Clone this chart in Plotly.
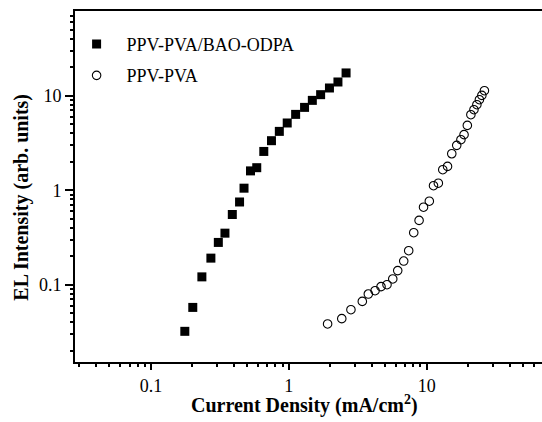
import plotly.graph_objects as go

# PPV-PVA/BAO-ODPA (filled squares)
bao_j = [0.176, 0.201, 0.234, 0.272, 0.308, 0.344, 0.389, 0.439, 0.473, 0.527, 0.585,
         0.658, 0.748, 0.853, 0.973, 1.12, 1.30, 1.48, 1.70, 1.97, 2.27, 2.60]
bao_el = [0.0321, 0.0575, 0.121, 0.191, 0.280, 0.351, 0.553, 0.750, 1.05, 1.60, 1.73,
          2.57, 3.34, 4.19, 5.14, 6.34, 7.52, 8.92, 10.25, 12.06, 13.96, 17.4]

# PPV-PVA (open circles)
ppv_j = [1.91, 2.42, 2.82, 3.41, 3.77, 4.22, 4.66, 5.15, 5.67, 6.16, 6.81, 7.40, 8.05,
         8.80, 9.48, 10.44, 11.2, 12.14, 13.07, 14.15, 15.19, 16.5, 17.7, 18.65, 19.7,
         20.9, 22.0, 23.1, 24.1, 25.1, 26.2]
ppv_el = [0.0384, 0.0437, 0.0544, 0.0666, 0.0797, 0.0864, 0.0953, 0.100, 0.115, 0.141,
          0.178, 0.229, 0.355, 0.479, 0.661, 0.765, 1.116, 1.186, 1.648, 1.786, 2.43,
          2.98, 3.42, 3.87, 4.85, 6.29, 7.11, 8.03, 9.07, 10.07, 11.29]

major_vals = [0.1, 1, 10]
major_text = ["0.1", "1", "10"]
minor_vals = [m * 10.0 ** e for e in range(-2, 2) for m in range(2, 10)]

x_range = [-1.551, 1.836]
y_range = [-1.818, 1.896]
font_family = "Liberation Serif"

fig = go.Figure()
fig.add_trace(go.Scatter(
    x=bao_j, y=bao_el, mode="markers", name="PPV-PVA/BAO-ODPA", legendgroup="a",
    marker=dict(symbol="square", size=9, color="black", line=dict(width=0)),
))
fig.add_trace(go.Scatter(
    x=ppv_j, y=ppv_el, mode="markers", name="PPV-PVA", legendgroup="b",
    marker=dict(symbol="circle-open", size=8.5, color="black", line=dict(width=1.1)),
))

tickfont = dict(family=font_family, size=18, color="black")

# plot frame (bottom, left, top) as 2px filled rectangles just outside the plot area
frame_rects = [
    dict(xsizemode="scaled", ysizemode="pixel", x0=-0.0043, x1=1, yanchor=0, y0=-2, y1=0),
    dict(xsizemode="pixel", ysizemode="scaled", xanchor=0, x0=-2, x1=0, y0=0, y1=1.0057),
    dict(xsizemode="scaled", ysizemode="pixel", x0=-0.0043, x1=1, yanchor=1, y0=0, y1=2),
]
shapes = [dict(type="rect", xref="paper", yref="paper", layer="above",
               fillcolor="black", line=dict(width=0), **r) for r in frame_rects]

fig.update_layout(
    xaxis=dict(type="log", range=x_range, showgrid=False, zeroline=False,
               showline=True, linecolor="black", linewidth=2, mirror=True,
               ticks="outside", tickcolor="black", tickwidth=1.5, ticklen=6,
               tickmode="array", tickvals=major_vals, ticktext=major_text,
               tickfont=tickfont),
    yaxis=dict(type="log", range=y_range, showgrid=False, zeroline=False,
               showline=True, linecolor="black", linewidth=2,
               ticks="outside", tickcolor="black", tickwidth=1.5, ticklen=8,
               tickmode="array", tickvals=major_vals, ticktext=major_text,
               tickfont=tickfont),
    xaxis2=dict(type="log", range=x_range, overlaying="x", side="bottom",
                anchor="y", showgrid=False, zeroline=False, showline=False,
                ticks="outside", tickcolor="black", tickwidth=1.5, ticklen=4,
                tickmode="array", tickvals=minor_vals, showticklabels=False),
    yaxis2=dict(type="log", range=y_range, overlaying="y", side="left",
                anchor="x", showgrid=False, zeroline=False, showline=False,
                ticks="outside", tickcolor="black", tickwidth=1.5, ticklen=4,
                tickmode="array", tickvals=minor_vals, showticklabels=False),
    shapes=shapes,
    width=542, height=422,
    margin=dict(l=75, r=0, t=11, b=60),
    paper_bgcolor="white", plot_bgcolor="white",
    font=dict(family=font_family, color="black"),
    showlegend=True,
    legend=dict(
        x=-0.018, y=0.958, xanchor="left", yanchor="top",
        font=dict(family=font_family, size=18, color="black"),
        bgcolor="rgba(0,0,0,0)", tracegroupgap=5, itemwidth=50,
    ),
    annotations=[
        dict(text="<b>Current Density (mA/cm<sup>2</sup>)</b>", xref="paper", yref="paper",
             x=0.4925, y=-0.12, xanchor="center", yanchor="middle", showarrow=False,
             font=dict(family=font_family, size=20, color="black")),
        dict(text="<b>EL Intensity (arb. units)</b>", xref="paper", yref="paper",
             x=-0.1135, y=0.471, xanchor="center", yanchor="middle", showarrow=False,
             textangle=-90, font=dict(family=font_family, size=20, color="black")),
    ],
)
# an invisible trace so the minor-tick overlay axes are drawn
fig.add_trace(go.Scatter(x=[bao_j[0]], y=[bao_el[0]], xaxis="x2", yaxis="y2",
                         mode="markers", marker=dict(opacity=0), showlegend=False,
                         hoverinfo="skip"))

fig.write_html("out.html")
